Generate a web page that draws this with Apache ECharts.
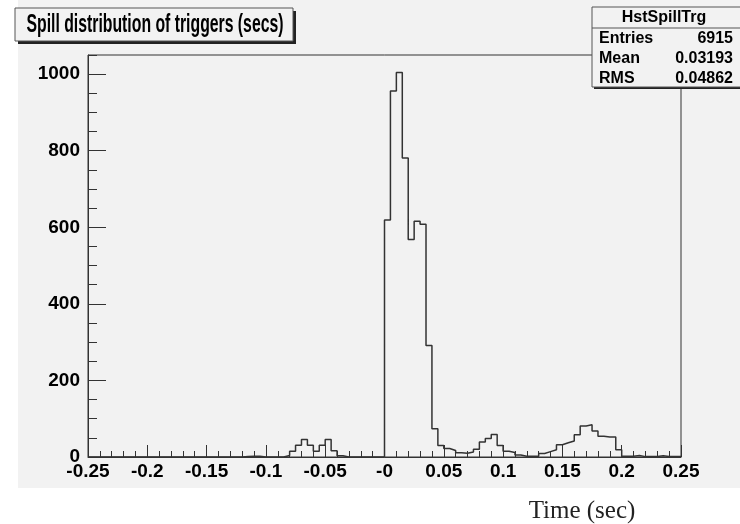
<!DOCTYPE html>
<html>
<head>
<meta charset="utf-8">
<script src="https://cdn.jsdelivr.net/npm/echarts@6/dist/echarts.min.js"></script>
<style>
html,body{margin:0;padding:0;background:#fff;}
#c{width:740px;height:524px;}
</style>
</head>
<body>
<div id="c"></div>
<script>
// ---- data ----
const BIN_MIN = -0.25;
const BIN_WIDTH = 0.005;
const counts = [
  0,0,0,0,0,0,0,0,0,0,
  0,0,0,0,0,0,0,0,0,0,
  0,0,0,0,0,0,1,2,2,0,
  0,0,0,4,15,31,46,31,15,31,
  46,16,3,0,0,0,0,0,0,0,
  619,956,1004,781,568,616,608,291,74,30,
  22,17,11,10,13,20,39,48,59,30,
  15,12,5,2,2,2,9,14,19,32,
  37,42,58,81,84,68,54,52,52,19,
  2,2,4,1,1,1,3,1,1,1
];
const yMajorTicks = [0, 200, 400, 600, 800, 1000];
const titleText = 'Spill distribution of triggers (secs)';
const statsName = 'HstSpillTrg';
const statsLabels = ['Entries', 'Mean', 'RMS'];
const statsValues = ['6915', '0.03193', '0.04862'];
const xTitle = 'Time (sec)';

// ---- build step points ----
const pts = [];
for (let i = 0; i < counts.length; i++) {
  pts.push([BIN_MIN + i * BIN_WIDTH, counts[i]]);
}
pts.push([BIN_MIN + counts.length * BIN_WIDTH, counts[counts.length - 1]]);
pts.push([BIN_MIN + counts.length * BIN_WIDTH, 0]);

const chart = echarts.init(document.getElementById('c'), null, {renderer: 'canvas'});
const BG = '#f2f2f2';
const LINE = '#333333';
const labelFont = {fontFamily: 'Liberation Sans, Arial, sans-serif', fontWeight: 'bold', fontSize: 19, color: '#000'};

// condense the title to the width it has in the picture
const TITLE_FONT = 'bold 25px "Liberation Sans", Arial, sans-serif';
const mctx = document.createElement('canvas').getContext('2d');
mctx.font = TITLE_FONT;
const titleW = mctx.measureText(titleText).width;
const titleScale = 257 / titleW;

const statsFont = 'bold 16px "Liberation Sans", Arial, sans-serif';
const graphics = [
  {type: 'rect', z: -100, silent: true, shape: {x: 18, y: 0, width: 722, height: 488}, style: {fill: BG}},
  // title box shadow + box
  {type: 'rect', z: 100, shape: {x: 18, y: 11, width: 278, height: 33}, style: {fill: '#222'}},
  {type: 'rect', z: 101, shape: {x: 15, y: 8, width: 278, height: 33}, style: {fill: BG, stroke: '#555', lineWidth: 1}},
  {type: 'text', z: 102, x: 155, y: 25, scaleX: titleScale, style: {x: 0, y: 0, text: titleText, align: 'center', verticalAlign: 'middle',
     font: TITLE_FONT, fill: '#000'}},
  // stats box
  {type: 'rect', z: 100, shape: {x: 594, y: 9, width: 150, height: 80}, style: {fill: '#222'}},
  {type: 'rect', z: 101, shape: {x: 592, y: 7, width: 150, height: 80}, style: {fill: BG, stroke: '#555', lineWidth: 1}},
  {type: 'line', z: 102, shape: {x1: 592, y1: 28, x2: 742, y2: 28}, style: {stroke: '#555', lineWidth: 1}},
  {type: 'text', z: 102, style: {x: 664, y: 18, text: statsName, align: 'center', verticalAlign: 'middle',
     font: statsFont, fill: '#000'}}
];
statsLabels.forEach((lab, i) => {
  graphics.push({type: 'text', z: 102, style: {x: 599, y: 39 + i * 20, text: lab, align: 'left', verticalAlign: 'middle',
     font: statsFont, fill: '#000'}});
  graphics.push({type: 'text', z: 102, style: {x: 733, y: 39 + i * 20, text: statsValues[i], align: 'right', verticalAlign: 'middle',
     font: statsFont, fill: '#000'}});
});
graphics.push({type: 'text', z: 102, style: {x: 582, y: 511, text: xTitle, align: 'center', verticalAlign: 'middle',
     font: '25px "Liberation Serif", "Times New Roman", serif', fill: '#222'}});

function fmtX(v) {
  const r = Math.round(v * 100) / 100;
  if (Math.abs(r) < 1e-9) return '-0';
  return String(r);
}

chart.setOption({
  animation: false,
  backgroundColor: 'transparent',
  graphic: graphics,
  grid: {left: 88, right: 59, top: 55, bottom: 67, show: true, borderColor: LINE, borderWidth: 1, backgroundColor: 'transparent'},
  xAxis: {
    type: 'value', min: -0.25, max: 0.25, interval: 0.05,
    axisLine: {show: true, onZero: false, lineStyle: {color: LINE, width: 1}},
    axisTick: {show: true, inside: true, length: 12, lineStyle: {color: LINE}},
    minorTick: {show: true, splitNumber: 5, length: 6, lineStyle: {color: LINE}},
    splitLine: {show: false},
    axisLabel: Object.assign({margin: 5, formatter: fmtX}, labelFont)
  },
  yAxis: [
    {
      type: 'value', min: 0, max: 1050, position: 'left',
      axisLine: {show: true, onZero: false, lineStyle: {color: LINE, width: 1}},
      axisTick: {show: true, inside: true, length: 18, customValues: yMajorTicks, lineStyle: {color: LINE}},
      splitLine: {show: false},
      axisLabel: Object.assign({margin: 8, customValues: yMajorTicks, formatter: v => String(v)}, labelFont)
    },
    {
      type: 'value', min: 0, max: 1050, interval: 50, position: 'left',
      axisLine: {show: false, onZero: false},
      axisTick: {show: true, inside: true, length: 9, lineStyle: {color: LINE}},
      splitLine: {show: false},
      axisLabel: {show: false}
    }
  ],
  series: [{
    type: 'line', step: 'end', data: pts, symbol: 'none', yAxisIndex: 0,
    lineStyle: {color: LINE, width: 1.5}
  }]
});
</script>
</body>
</html>
